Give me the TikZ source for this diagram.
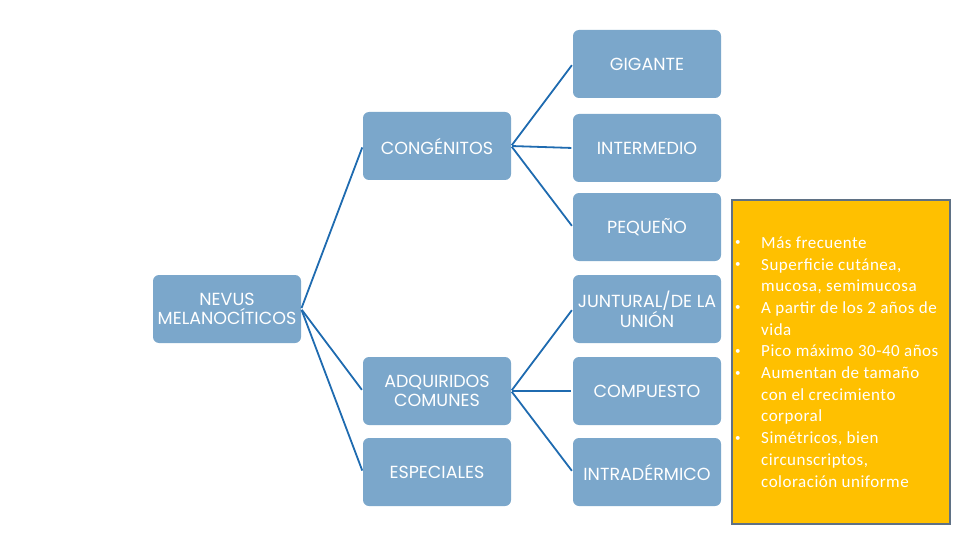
\documentclass[tikz,border=0pt]{standalone}
\usepackage{fontspec}
\setmainfont{Poppins}
\newfontfamily\bulletfont[LetterSpace=3]{Carlito}
\definecolor{boxblue}{HTML}{7BA7CB}
\definecolor{linkblue}{HTML}{1F6BB0}
\definecolor{noteyellow}{HTML}{FFC000}
\definecolor{noteborder}{HTML}{5F7185}
\newcommand{\nbul}{\hspace{2pt}\raisebox{2.5pt}{\fontsize{11}{11}\selectfont\textbullet}}
\begin{document}
\begin{tikzpicture}[x=1pt,y=-1pt,
  cat/.style={draw=none,fill=boxblue,rounded corners=6pt,minimum width=148pt,minimum height=68pt,
    inner sep=1pt,text=white,align=center,font=\fontsize{17.5}{18.5}\selectfont},
  link/.style={draw=linkblue,line width=1.8pt,shorten >=1.5pt,shorten <=1pt}]
\useasboundingbox (0,0) rectangle (960,540);
\node[cat] (nevus) at (227,309) {NEVUS\\MELANOCÍTICOS};
\node[cat] (cong) at (437,146) {CONGÉNITOS};
\node[cat] (adq) at (437,391) {ADQUIRIDOS\\COMUNES};
\node[cat] (esp) at (437,472) {ESPECIALES};
\node[cat] (gig) at (647,64) {GIGANTE};
\node[cat] (inter) at (647,148) {INTERMEDIO};
\node[cat] (peq) at (647,227) {PEQUEÑO};
\node[cat] (junt) at (647,309) {JUNTURAL/DE LA\\UNIÓN};
\node[cat] (comp) at (647,391) {COMPUESTO};
\node[cat] (intra) at (647,472) {INTRADÉRMICO};
\draw[link] (nevus.east) -- (cong.west);
\draw[link] (nevus.east) -- (adq.west);
\draw[link] (nevus.east) -- (esp.west);
\draw[link] (cong.east) -- (gig.west);
\draw[link] (cong.east) -- (inter.west);
\draw[link] (cong.east) -- (peq.west);
\draw[link] (adq.east) -- (junt.west);
\draw[link] (adq.east) -- (comp.west);
\draw[link] (adq.east) -- (intra.west);
\node[draw=noteborder,line width=1.6pt,fill=noteyellow,minimum width=218pt,minimum height=324pt,anchor=north west,inner sep=0pt] (note) at (731,199) {};
\node[anchor=north west,inner sep=0pt,text=white,font=\bulletfont\fontsize{17}{21.7}\selectfont] (notetext) at (733,233)
{\begin{tabular}{@{}p{28pt}@{}l@{}}
\nbul & Más frecuente\\
\nbul & Superficie cutánea,\\
 & mucosa, semimucosa\\
\nbul & A partir de los 2 años de\\
 & vida\\
\nbul & Pico máximo 30-40 años\\
\nbul & Aumentan de tamaño\\
 & con el crecimiento\\
 & corporal\\
\nbul & Simétricos, bien\\
 & circunscriptos,\\
 & coloración uniforme
\end{tabular}};
\end{tikzpicture}
\end{document}
